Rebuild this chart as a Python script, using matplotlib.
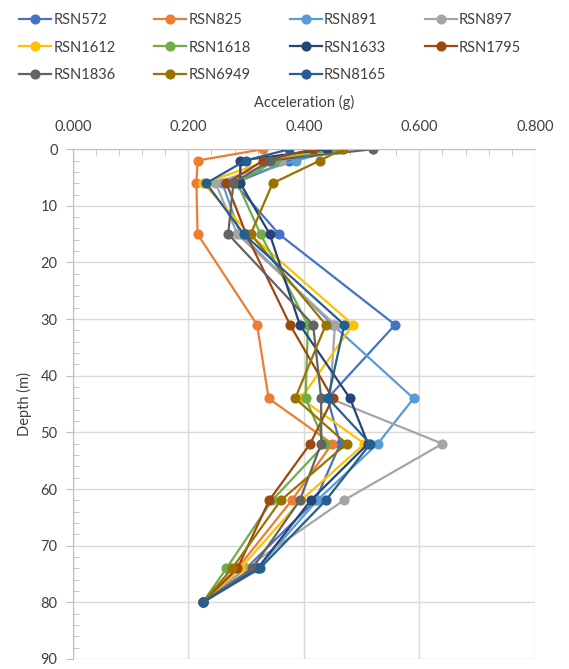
import matplotlib.pyplot as plt
from matplotlib.ticker import MultipleLocator, FormatStrFormatter

plt.rcParams['font.family'] = ['Lato', 'DejaVu Sans']

# Depth levels (m)
depth = [0, 2, 6, 15, 31, 44, 52, 62, 74, 80]

# Peak acceleration (g) for each record
rsn572 = [0.450, 0.375, 0.280, 0.357, 0.558, 0.441, 0.463, 0.420, 0.300, 0.225]
rsn825 = [0.330, 0.216, 0.214, 0.216, 0.319, 0.339, 0.449, 0.379, 0.285, 0.225]
rsn891 = [0.465, 0.386, 0.259, 0.290, 0.450, 0.590, 0.528, 0.423, 0.320, 0.225]
rsn897 = [0.460, 0.360, 0.247, 0.285, 0.454, 0.445, 0.640, 0.469, 0.299, 0.225]
rsn1612 = [0.431, 0.340, 0.226, 0.306, 0.485, 0.395, 0.505, 0.395, 0.290, 0.225]
rsn1618 = [0.455, 0.350, 0.285, 0.325, 0.407, 0.403, 0.437, 0.345, 0.266, 0.225]
rsn1633 = [0.440, 0.290, 0.290, 0.341, 0.393, 0.480, 0.511, 0.412, 0.320, 0.225]
rsn1795 = [0.416, 0.330, 0.266, 0.300, 0.376, 0.450, 0.411, 0.340, 0.285, 0.225]
rsn1836 = [0.520, 0.341, 0.278, 0.269, 0.416, 0.430, 0.430, 0.393, 0.311, 0.225]
rsn6949 = [0.467, 0.428, 0.346, 0.308, 0.438, 0.385, 0.474, 0.360, 0.276, 0.225]
rsn8165 = [0.375, 0.299, 0.231, 0.296, 0.470, 0.442, 0.515, 0.438, 0.324, 0.225]

names = ['RSN572', 'RSN825', 'RSN891', 'RSN897', 'RSN1612', 'RSN1618',
         'RSN1633', 'RSN1795', 'RSN1836', 'RSN6949', 'RSN8165']
series = [rsn572, rsn825, rsn891, rsn897, rsn1612, rsn1618,
          rsn1633, rsn1795, rsn1836, rsn6949, rsn8165]
colors = ['#4472C4', '#ED7D31', '#5B9BD5', '#A5A5A5', '#FFC000', '#70AD47',
          '#264478', '#9E480E', '#636363', '#997300', '#255E91']

fig = plt.figure(figsize=(5.69, 6.69), dpi=100)
ax = fig.add_axes([0.128, 0.015, 0.812, 0.762])

lines = []
for name, vals, c in zip(names, series, colors):
    ln, = ax.plot(vals, depth, color=c, lw=1.6, marker='o', ms=6.3, label=name)
    lines.append(ln)

ax.set_xlim(0, 0.8)
ax.set_ylim(90, 0)
ax.xaxis.set_ticks_position('top')
ax.xaxis.set_label_position('top')
ax.xaxis.set_major_locator(MultipleLocator(0.2))
ax.xaxis.set_minor_locator(MultipleLocator(0.04))
ax.xaxis.set_major_formatter(FormatStrFormatter('%.3f'))
ax.yaxis.set_major_locator(MultipleLocator(10))
ax.yaxis.set_minor_locator(MultipleLocator(2))

ax.grid(True, which='major', color='#D9D9D9', lw=1)
ax.set_axisbelow(True)
for s in ['right', 'bottom']:
    ax.spines[s].set_visible(False)
for s in ['left', 'top']:
    ax.spines[s].set_color('#BFBFBF')
ax.tick_params(axis='x', which='major', length=0, pad=11, labelsize=10.5, labelcolor='#404040')
ax.tick_params(axis='x', which='minor', direction='in', length=4, color='#BFBFBF')
ax.tick_params(axis='y', which='major', direction='out', length=5, color='#BFBFBF',
               pad=6, labelsize=10.5, labelcolor='#404040')
ax.tick_params(axis='y', which='minor', direction='in', length=4, color='#BFBFBF')

ax.set_xlabel('Acceleration (g)', fontsize=10.5, color='#404040', labelpad=9)
ax.set_ylabel('Depth (m)', fontsize=10.5, color='#404040', labelpad=6)

# row-wise legend order for a 4-column layout
order = [0, 4, 8, 1, 5, 9, 2, 6, 10, 3, 7]
fig.legend([lines[i] for i in order], [names[i] for i in order],
           loc='upper center', bbox_to_anchor=(0.475, 1.0), ncol=4, frameon=False,
           fontsize=10.5, handlelength=2.2, handletextpad=0.15, columnspacing=2.65,
           labelspacing=0.92, labelcolor='#404040')

fig.savefig('out.png', dpi=100)
